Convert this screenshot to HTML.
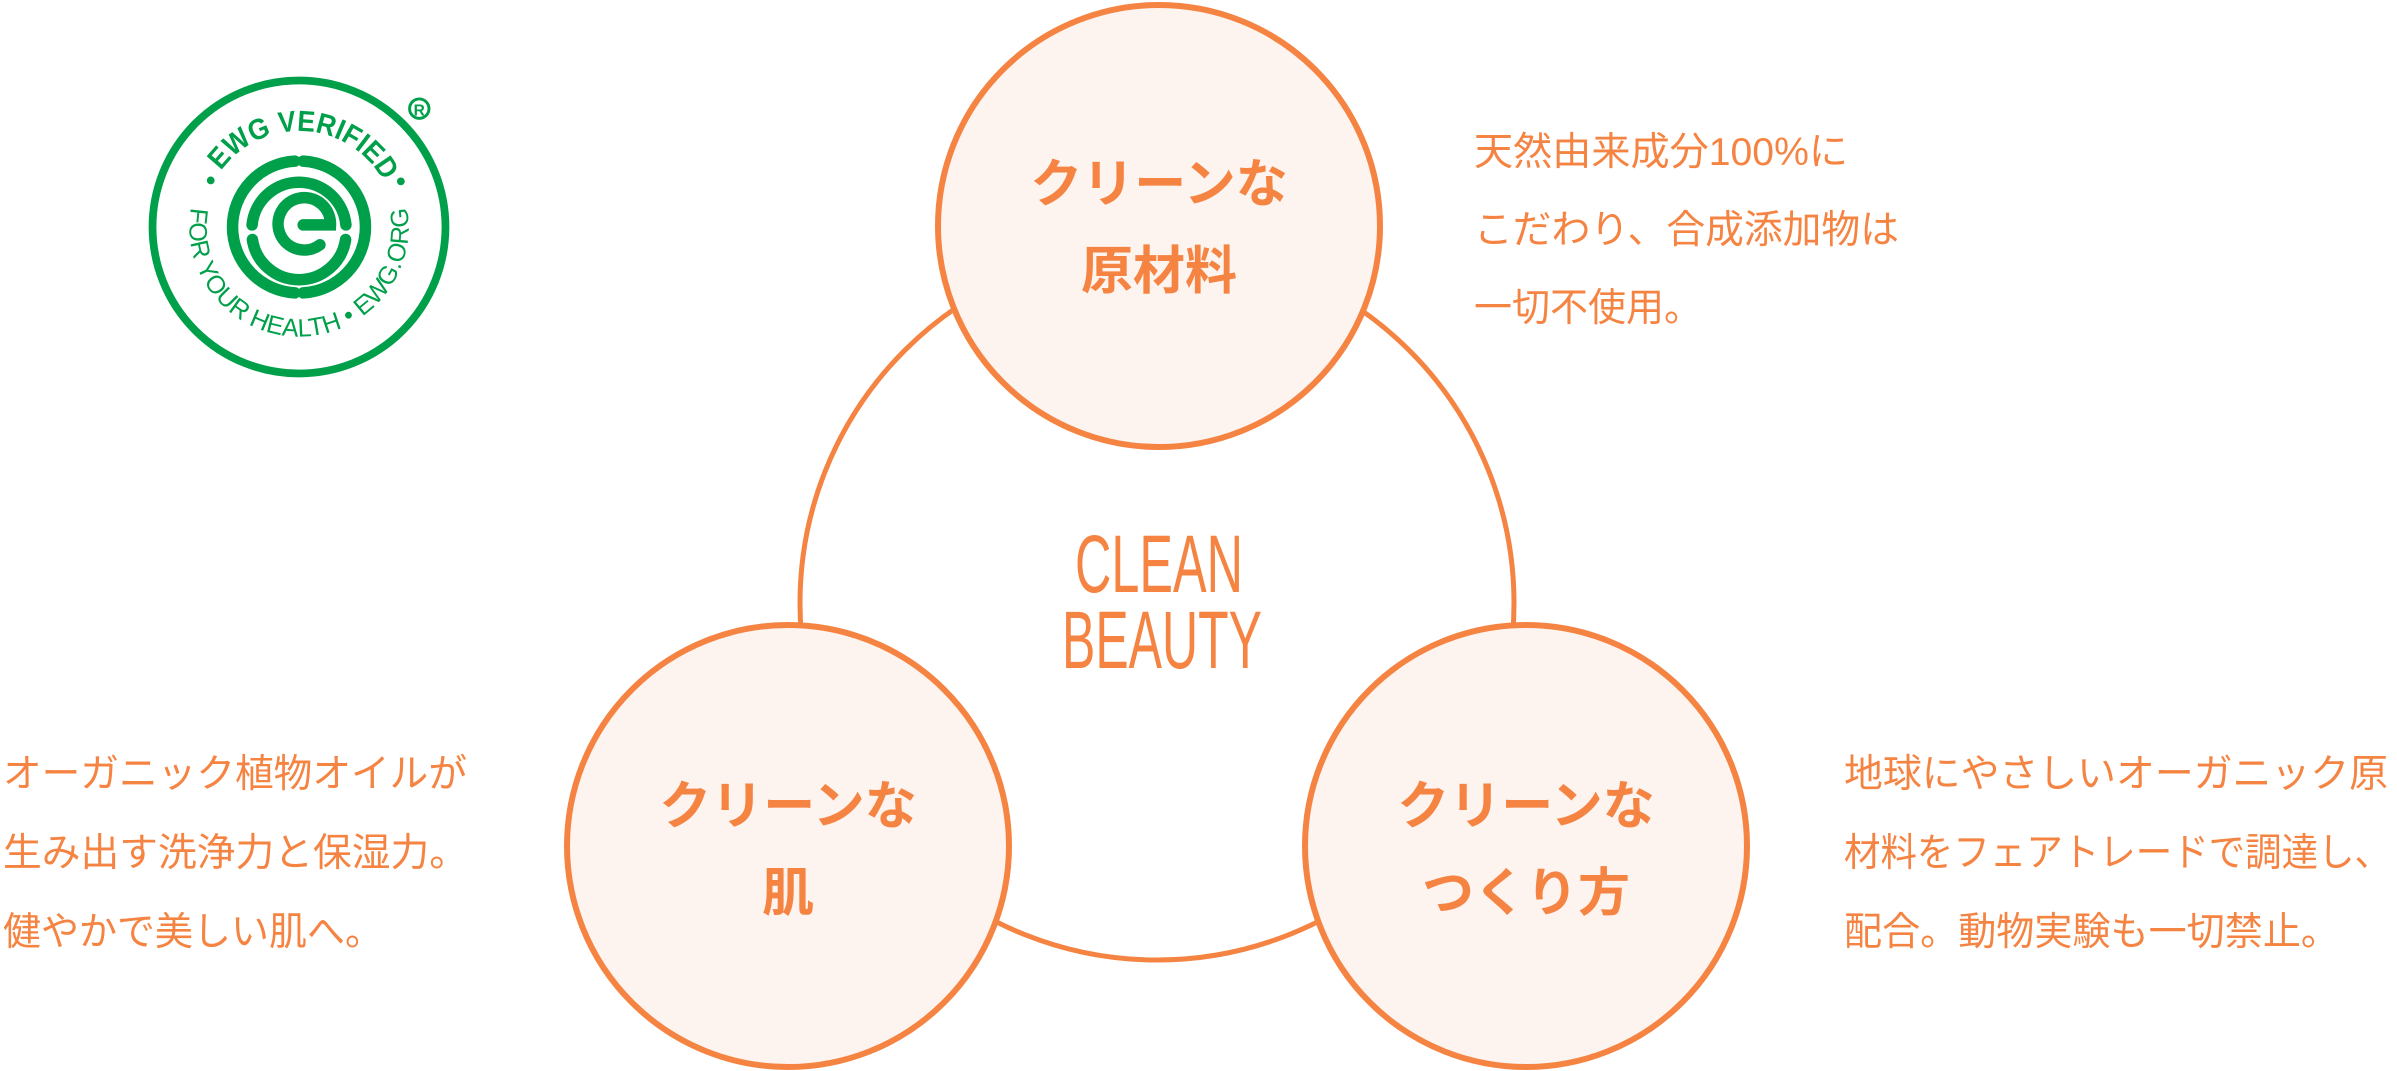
<!DOCTYPE html>
<html><head><meta charset="utf-8">
<style>
html,body{margin:0;padding:0;background:#fff;}
svg{display:block;}
</style></head>
<body>
<svg width="2397" height="1071" viewBox="0 0 2397 1071" xmlns="http://www.w3.org/2000/svg">
<g fill="none" stroke="#f58443" stroke-width="5">
<circle cx="1157" cy="603" r="357"/>
</g>
<g fill="#fdf3ef" stroke="#f58443" stroke-width="6">
<circle cx="1159" cy="226" r="221"/>
<circle cx="788" cy="846" r="221"/>
<circle cx="1526" cy="846" r="221"/>
</g>
<g fill="#f58443" font-family="'Liberation Sans','Noto Sans CJK JP',sans-serif" font-weight="bold" font-size="52" text-anchor="middle">
<text x="1159" y="202">クリーンな</text>
<text x="1159" y="289">原材料</text>
<text x="788" y="824">クリーンな</text>
<text x="788" y="911">肌</text>
<text x="1526" y="824">クリーンな</text>
<text x="1526" y="911">つくり方</text>
</g>
<g fill="#f58443" font-family="'Liberation Sans',sans-serif" font-size="82">
<text x="1075" y="592" textLength="168" lengthAdjust="spacingAndGlyphs">CLEAN</text>
<text x="1062" y="668" textLength="200" lengthAdjust="spacingAndGlyphs">BEAUTY</text>
</g>
<g fill="#f58443" font-family="'Liberation Sans','Noto Sans CJK JP',sans-serif" font-size="39">
<text x="1474" y="165" textLength="374" lengthAdjust="spacingAndGlyphs">天然由来成分100%に</text>
<text x="1474" y="243" textLength="425" lengthAdjust="spacingAndGlyphs">こだわり、合成添加物は</text>
<text x="1474" y="321" textLength="228" lengthAdjust="spacingAndGlyphs">一切不使用。</text>
<text x="3" y="787" textLength="464" lengthAdjust="spacingAndGlyphs">オーガニック植物オイルが</text>
<text x="3" y="866" textLength="465" lengthAdjust="spacingAndGlyphs">生み出す洗浄力と保湿力。</text>
<text x="3" y="945" textLength="380" lengthAdjust="spacingAndGlyphs">健やかで美しい肌へ。</text>
<text x="1844" y="787" textLength="544" lengthAdjust="spacingAndGlyphs">地球にやさしいオーガニック原</text>
<text x="1844" y="866" textLength="547" lengthAdjust="spacingAndGlyphs">材料をフェアトレードで調達し、</text>
<text x="1844" y="945" textLength="495" lengthAdjust="spacingAndGlyphs">配合。動物実験も一切禁止。</text>
</g>
<!-- EWG logo -->
<g transform="translate(299,227) scale(0.97)">
<circle r="151" fill="none" stroke="#00a04a" stroke-width="8"/>
<defs>
<path id="topArc" d="M -99 0 A 99 99 0 0 1 99 0"/>
<path id="botArc" d="M -111.3 -19.6 A 113 113 0 1 0 111.3 -19.6"/>
</defs>
<text font-family="'Liberation Sans',sans-serif" font-weight="bold" font-size="30" fill="#00a04a" text-anchor="middle"><textPath href="#topArc" startOffset="52%" textLength="200" lengthAdjust="spacingAndGlyphs">EWG VERIFIED</textPath></text>
<text font-family="'Liberation Sans',sans-serif" font-size="26" fill="#00a04a" text-anchor="middle"><textPath href="#botArc" startOffset="50%" textLength="395" lengthAdjust="spacingAndGlyphs">FOR YOUR HEALTH • EWG.ORG</textPath></text>
<circle cx="-91" cy="-48" r="4" fill="#00a04a"/>
<circle cx="105" cy="-47" r="4" fill="#00a04a"/>
<circle cx="124" cy="-122" r="10" fill="none" stroke="#00a04a" stroke-width="3"/>
<text x="124" y="-115" font-family="'Liberation Sans',sans-serif" font-weight="bold" font-size="16" fill="#00a04a" text-anchor="middle">R</text>
<g fill="none" stroke="#00a04a" stroke-width="11" stroke-linecap="round" transform="scale(1.08)">
<path d="M 4 -62.9 A 63 63 0 0 1 4 62.9"/>
<path d="M -4 62.9 A 63 63 0 0 1 -4 -62.9"/>
<path d="M 44.8 -2 A 45 45 0 0 0 -44.8 -2"/>
<path d="M -44.5 12 A 45 45 0 0 0 44.5 12"/>
<path d="M 4 -2 L 30 -2 A 25 25 0 1 0 20 17"/>
</g>
</g>
</svg>
</body></html>
